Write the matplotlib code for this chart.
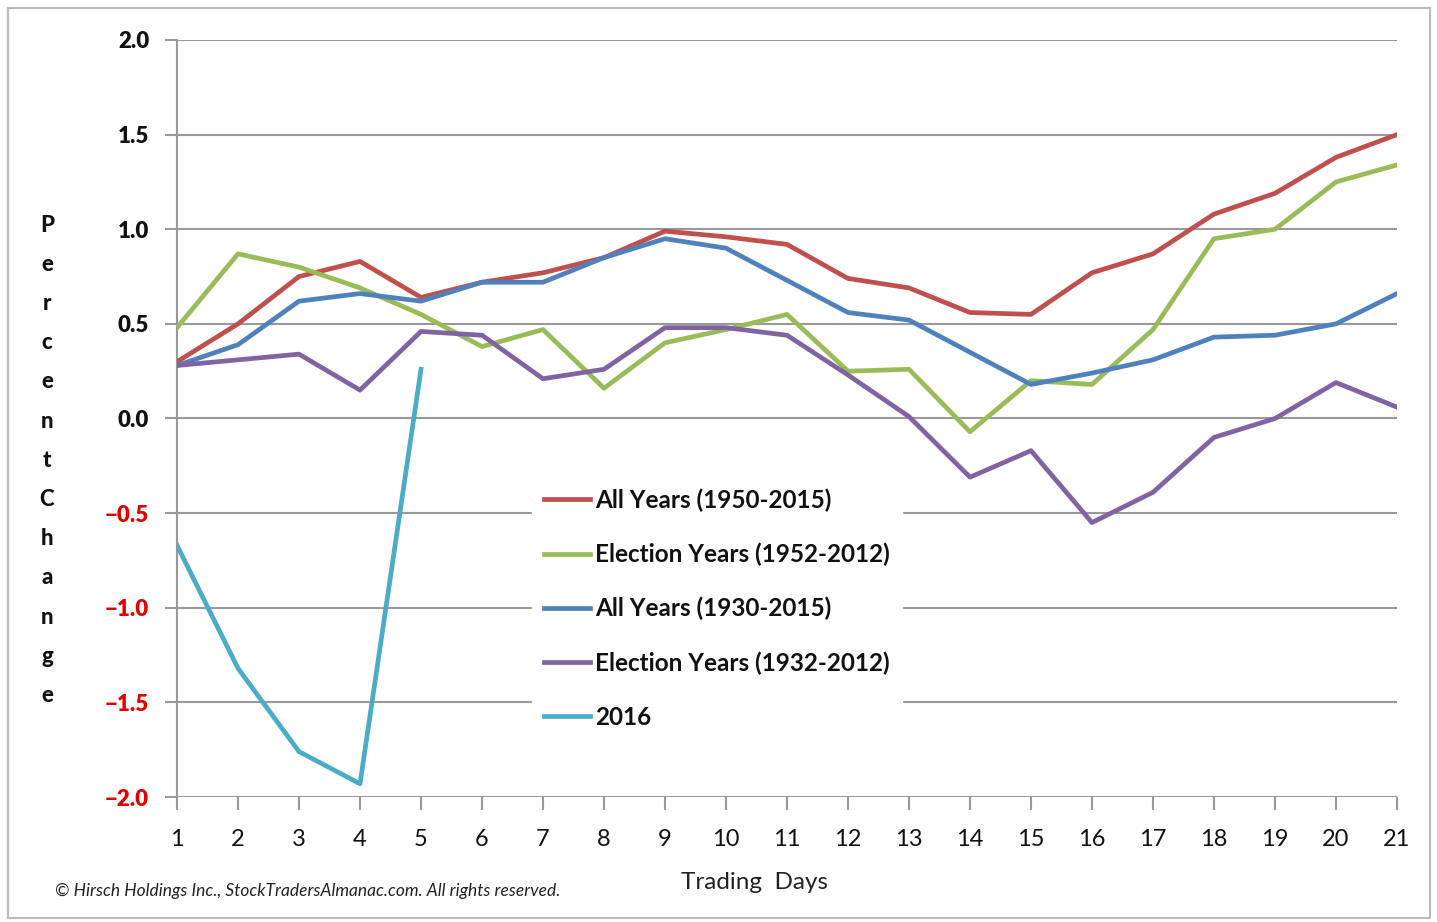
import matplotlib
matplotlib.use("Agg")
import matplotlib.pyplot as plt
from matplotlib.patches import Rectangle

plt.rcParams['font.family'] = ['Lato', 'DejaVu Sans']

days = list(range(1, 22))
all_1950 = [0.30, 0.50, 0.75, 0.83, 0.64, 0.72, 0.77, 0.85, 0.99, 0.96, 0.92,
            0.74, 0.69, 0.56, 0.55, 0.77, 0.87, 1.08, 1.19, 1.38, 1.50]
elec_1952 = [0.48, 0.87, 0.80, 0.69, 0.55, 0.38, 0.47, 0.16, 0.40, 0.47, 0.55,
             0.25, 0.26, -0.07, 0.20, 0.18, 0.47, 0.95, 1.00, 1.25, 1.34]
all_1930 = [0.28, 0.39, 0.62, 0.66, 0.62, 0.72, 0.72, 0.85, 0.95, 0.90, 0.73,
            0.56, 0.52, 0.35, 0.18, 0.24, 0.31, 0.43, 0.44, 0.50, 0.66]
elec_1932 = [0.28, 0.31, 0.34, 0.15, 0.46, 0.44, 0.21, 0.26, 0.48, 0.48, 0.44,
             0.23, 0.01, -0.31, -0.17, -0.55, -0.39, -0.10, 0.00, 0.19, 0.06]
days_2016 = [1, 2, 3, 4, 5]
y2016 = [-0.67, -1.32, -1.76, -1.93, 0.26]

series_labels = ["All Years (1950-2015)", "Election Years (1952-2012)",
                 "All Years (1930-2015)", "Election Years (1932-2012)", "2016"]
colors = ["#C0504D", "#9BBB59", "#4F81BD", "#8064A2", "#4BACC6"]
yticks = [-2.0, -1.5, -1.0, -0.5, 0.0, 0.5, 1.0, 1.5, 2.0]

fig = plt.figure(figsize=(14.37, 9.22), dpi=100)
# outer frame
fig.patches.append(Rectangle((8/1437, 4/922), 1422/1437, 910/922, transform=fig.transFigure,
                             fill=False, edgecolor="#BBBBBB", lw=1.5))

ax = fig.add_axes([177/1437, 1 - 797/922, 1220/1437, 757/922])
ax.set_xlim(1, 21)
ax.set_ylim(-2.0, 2.0)

lw = 3.4
ax.plot(days, all_1950, color=colors[0], lw=lw, label=series_labels[0], zorder=3)
ax.plot(days, elec_1952, color=colors[1], lw=lw, label=series_labels[1], zorder=3)
ax.plot(days, all_1930, color=colors[2], lw=lw, label=series_labels[2], zorder=3)
ax.plot(days, elec_1932, color=colors[3], lw=lw, label=series_labels[3], zorder=3)
ax.plot(days_2016, y2016, color=colors[4], lw=lw, label=series_labels[4], zorder=3)

for s in ['top', 'right', 'bottom']:
    ax.spines[s].set_visible(False)
ax.spines['left'].set_color('#999999')
ax.spines['left'].set_linewidth(1.5)
for yv in yticks:
    ax.axhline(yv, color='#999999', lw=1.5, zorder=1)

ax.set_yticks(yticks)
ax.set_yticklabels([f"{v:.1f}".replace('-', '\u2212') for v in yticks],
                   fontsize=16, fontweight='heavy')
for lbl, v in zip(ax.get_yticklabels(), yticks):
    lbl.set_color('#E00000' if v < 0 else '#111111')
ax.set_xticks(days)
ax.set_xticklabels([str(d) for d in days], fontsize=17, color='#111111')
ax.tick_params(axis='y', direction='out', length=9, width=1.5, color='#999999', pad=11)
ax.tick_params(axis='x', direction='out', length=9, width=1.5, color='#999999', pad=14)

leg = ax.legend(loc='upper left', bbox_to_anchor=(0.281, 0.44), frameon=True,
                fancybox=False, framealpha=1, edgecolor='white', facecolor='white',
                prop={'size': 17.5, 'weight': 'bold'}, handlelength=1.9,
                handletextpad=0.2, labelspacing=1.27, borderpad=0.5)
for t in leg.get_texts():
    t.set_color('#111111')
leg.set_zorder(4)

# vertical stacked y label
word = "PercentChange"
for i, ch in enumerate(word):
    fig.text(47/1437, 1 - (225 + i*39.2)/922, ch, fontsize=16, fontweight='black',
             ha='center', va='center', color='#111111')

fig.text(755/1437, 1 - 882/922, "Trading  Days", fontsize=17.5, ha='center',
         va='center', color='#222222')
fig.text(55/1437, 1 - 891/922,
         "\u00a9 Hirsch Holdings Inc., StockTradersAlmanac.com. All rights reserved.",
         fontsize=12.5, style='italic', ha='left', va='center', color='#222222')

fig.savefig("out.png", dpi=100, facecolor='white')
